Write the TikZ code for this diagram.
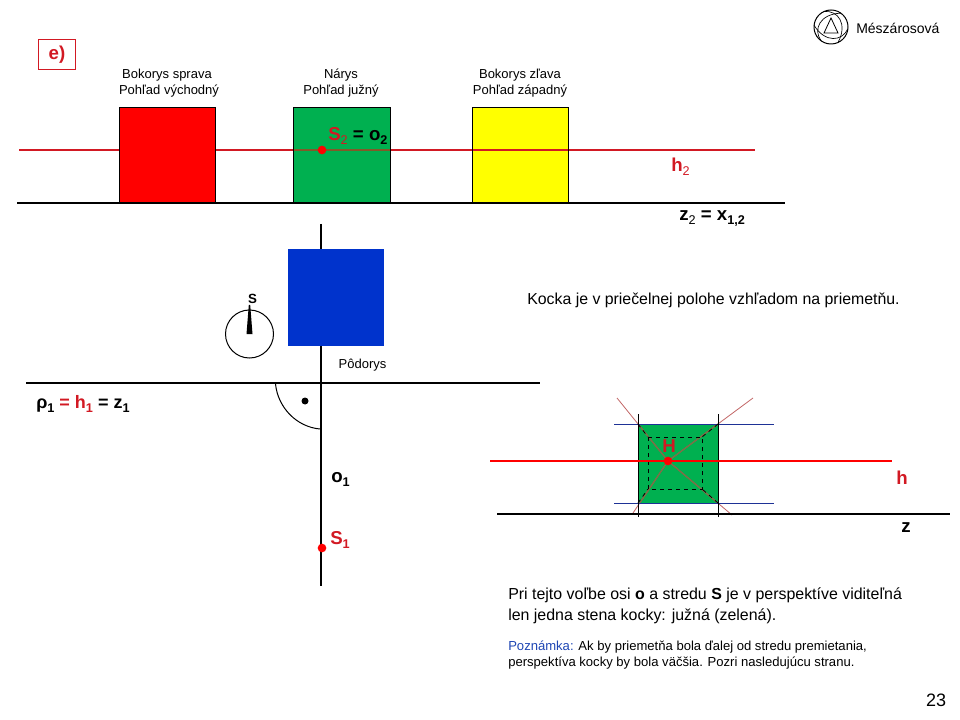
\documentclass[tikz,border=0pt]{standalone}
\usepackage{fontspec}
\setmainfont{Liberation Sans}
\usepackage{xcolor}
\definecolor{kockared}{RGB}{255,0,0}
\definecolor{kockagreen}{RGB}{0,176,80}
\definecolor{kockablue}{RGB}{0,51,204}
\definecolor{kockayellow}{RGB}{255,255,0}
\definecolor{linered}{RGB}{210,25,35}
\definecolor{navyline}{RGB}{30,50,150}
\definecolor{notecolor}{RGB}{30,70,180}
\definecolor{linebrown}{RGB}{130,90,40}
\definecolor{raybrown}{RGB}{125,110,70}
\newcommand{\subb}[1]{\raisebox{-3pt}{\fontsize{9.5}{9.5}\selectfont #1}}
\newcommand{\subn}[1]{\raisebox{-3pt}{\fontsize{9.5}{9.5}\selectfont\mdseries #1}}
\tikzset{
  face/.style={draw=black,line width=0.75pt},
  axis/.style={line width=1.8pt,black},
  trace/.style={line width=1.8pt,linered},
  ray/.style={line width=0.6pt,red!60!black!60},
  point/.style={circle,fill=red,inner sep=0pt,minimum size=6.5pt},
  small/.style={font=\fontsize{9.75}{12}\selectfont,align=center},
  bodytext/.style={font=\fontsize{11.95}{15.75}\selectfont,align=left,anchor=north west,inner sep=0pt},
  notetext/.style={font=\fontsize{9.8}{12}\selectfont,align=left,anchor=north west,inner sep=0pt},
  mark label/.style={font=\fontsize{14}{16}\selectfont\bfseries,inner sep=0pt},
}
\begin{document}
\begin{tikzpicture}[line cap=butt,line join=miter,x=0.75pt,y=-0.75pt]
\useasboundingbox (0,0) rectangle (960,720);

% tag and logo
\node[draw=linered,line width=0.75pt,minimum width=27.5pt,minimum height=23pt,inner sep=0pt,font=\fontsize{14}{16}\selectfont\bfseries,text=linered] (tag) at (57,54.5) {e)};
\draw[line width=0.75pt] (831,27) circle (17);
\foreach \r in {0,120,240}
  \draw[line width=0.5pt,shift={(831,27)},rotate=\r] (-7,-15.5) .. controls (7,-17) and (17,-3) .. (7,15.5);
\draw[line width=0.6pt] (831,18) -- (824,33) -- (838,33) -- cycle;
\node[font=\fontsize{10.5}{12}\selectfont,anchor=west,inner sep=0pt] (author) at (856,28.5) {Mészárosová};

% upper row
\fill[kockayellow] (472,107.5) rectangle (568,203);
\draw[trace] (19,150) -- (755,150);
\fill[kockared] (119,107.5) rectangle (215,203);
\draw[face] (119,107.5) rectangle (215,203);
\fill[kockagreen] (293,107.5) rectangle (390,203);
\draw[linebrown,line width=1.8pt] (293,150) -- (390,150);
\draw[face] (293,107.5) rectangle (390,203);
\draw[face] (472,107.5) rectangle (568,203);
\draw[axis] (17,203) -- (785,203);
\node[small] (bokorysP) at (167,83.5) {Bokorys sprava\\ \hspace*{3pt}Pohľad východný};
\node[small] (narys) at (341,83.5) {Nárys\\ Pohľad južný};
\node[small] (bokorysL) at (520,83.5) {Bokorys zľava\\ Pohľad západný};
\node[point] (S2) at (322,150) {};
\node[mark label,anchor=west] (S2lab) at (328,136) {\textcolor{linered}{S\subn{2}} = o\subb{2}};
\node[mark label,text=linered] (h2) at (680.5,167) {h\subn{2}};
\node[mark label,anchor=west] (z2) at (679,219) {z\subn{2} = x\subb{1,2}};

% lower left
\draw[axis] (321,224) -- (321,586);
\draw[axis] (26,383) -- (540,383);
\fill[kockablue] (288,249.5) rectangle (384,345.5);
\node[small] (podorys) at (362.5,365) {Pôdorys};
\draw[line width=0.75pt] (249.5,334) circle (24);
\fill (248.8,305) -- (250.2,305) -- (252.5,334) -- (246.5,334) -- cycle;
\node[font=\fontsize{10}{10}\selectfont\bfseries,inner sep=0pt] (Slab) at (252.5,299) {S};
\draw[line width=0.75pt] (275.5,384) .. controls (278,408) and (297,427) .. (320,429);
\fill (305,401) circle (3.5);
\node[mark label,anchor=west,font=\fontsize{13.5}{16}\selectfont\bfseries] (rho) at (36,404) {ρ\subb{1} \textcolor{linered}{= h\subb{1}} = z\subb{1}};
\node[mark label,anchor=west] (o1) at (331,479) {o\subb{1}};
\node[point] (S1) at (322,548) {};
\node[mark label,anchor=west,text=linered] (S1lab) at (330,540) {S\subb{1}};

% note top right
\node[font=\fontsize{11.9}{14}\selectfont,anchor=west,inner sep=0pt] (polohe) at (527,300) {Kocka je v priečelnej polohe vzhľadom na priemetňu.};

% small perspective
\fill[kockagreen] (638,424) rectangle (718,503);
\coordinate (H) at (668,461);
\draw[ray] (617,398) -- (H) -- (753,398);
\draw[ray] (633,513) -- (H) -- (732,515);
\begin{scope}
  \clip (638,424) rectangle (718,503);
  \draw[raybrown,line width=1pt] (617,398) -- (H) -- (753,398);
  \draw[raybrown,line width=1pt] (633,513) -- (H) -- (732,515);
\end{scope}
\draw[line width=0.75pt,navyline] (614,424) -- (774,424);
\draw[line width=0.75pt,navyline] (614,503) -- (774,503);
\draw[line width=0.75pt] (638,414) -- (638,517);
\draw[line width=0.75pt] (718,414) -- (718,517);
\draw[line width=0.6pt,dashed] (648,437) rectangle (702,489);
\draw[line width=0.6pt,dashed] (638,424) -- (648,437) (718,424) -- (702,437) (638,503) -- (648,489) (718,503) -- (702,489);
\draw[trace,red] (490,461) -- (892,461);
\draw[axis] (497,514) -- (950,514);
\node[point] (Hdot) at (H) {};
\node[mark label,text=linered] (Hlab) at (669,446) {H};
\node[mark label,text=linered] (hlab) at (902,478) {h};
\node[mark label] (zlab) at (906,528) {z};

% bottom text
\node[bodytext] (text) at (508,587) {Pri tejto voľbe osi \textbf{o} a stredu \textbf{S} je v perspektíve viditeľná\\ len jedna stena kocky: južná (zelená).};
\node[notetext] (note) at (508,641) {\textcolor{notecolor}{Poznámka:} Ak by priemetňa bola ďalej od stredu premietania,\\ perspektíva kocky by bola väčšia. Pozri nasledujúcu stranu.};
\node[font=\fontsize{13.5}{16}\selectfont,inner sep=0pt] (page) at (936,700) {23};
\end{tikzpicture}
\end{document}
